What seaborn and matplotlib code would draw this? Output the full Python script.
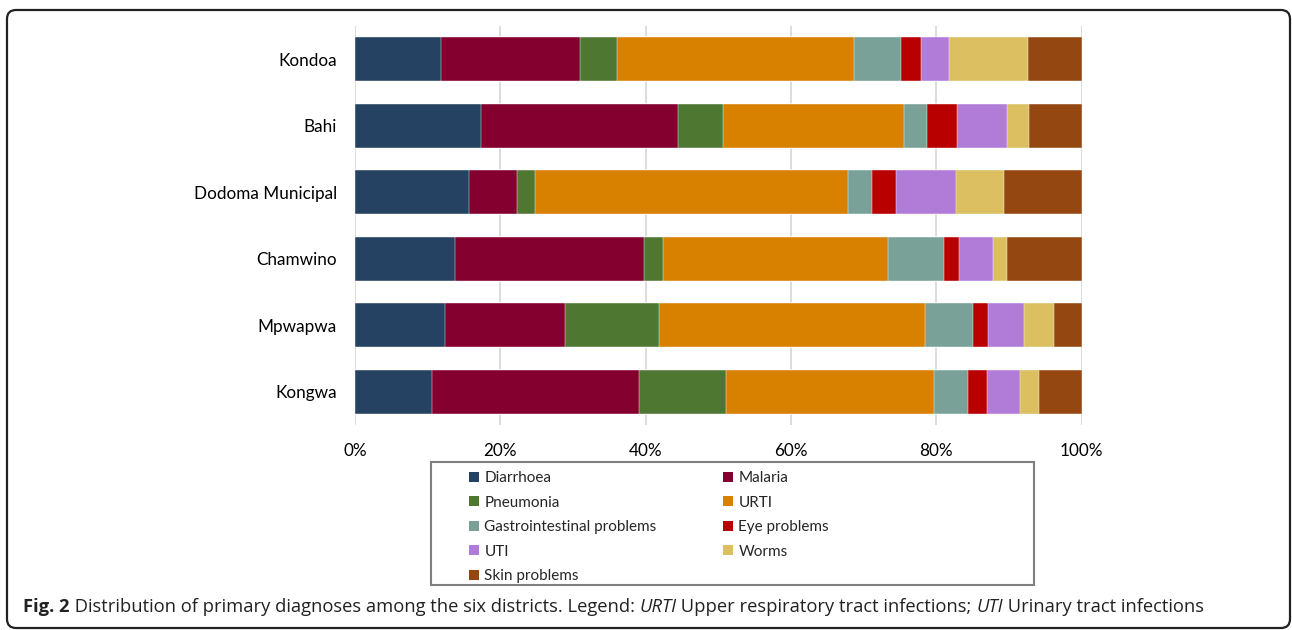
import matplotlib
matplotlib.use("Agg")
import matplotlib.pyplot as plt
from matplotlib.patches import Patch, Rectangle, FancyBboxPatch
from matplotlib.transforms import IdentityTransform
import numpy as np
import pandas as pd
import seaborn as sns

# Districts (top to bottom) and diagnoses (stack order, left to right)
districts = ["Kondoa", "Bahi", "Dodoma Municipal", "Chamwino", "Mpwapwa", "Kongwa"]
diagnoses = ["Diarrhoea", "Malaria", "Pneumonia", "URTI", "Gastrointestinal problems",
             "Eye problems", "UTI", "Worms", "Skin problems"]

# Share of primary diagnoses per district (%)
diarrhoea = [11.9, 17.3, 15.7, 13.7, 12.4, 10.6]
malaria = [19.1, 27.1, 6.6, 26.1, 16.5, 28.5]
pneumonia = [5.1, 6.2, 2.5, 2.6, 13.0, 12.0]
urti = [32.6, 24.9, 43.0, 31.0, 36.6, 28.6]
gastro = [6.5, 3.3, 3.4, 7.7, 6.6, 4.7]
eye = [2.7, 4.1, 3.2, 2.0, 2.0, 2.6]
uti = [3.9, 6.8, 8.3, 4.7, 5.0, 4.6]
worms = [10.8, 3.1, 6.6, 2.0, 4.1, 2.5]
skin = [7.4, 7.2, 10.7, 10.2, 3.8, 5.9]

colors = ["#264262", "#83002F", "#4E7732", "#D88000", "#7AA197",
          "#B90000", "#B07CD8", "#DBBF60", "#954712"]

tick_values = [0, 20, 40, 60, 80, 100]
tick_labels = ["0%", "20%", "40%", "60%", "80%", "100%"]

caption_parts = [
    ("Fig. 2", "bold", "normal"),
    (" Distribution of primary diagnoses among the six districts. Legend: ", "normal", "normal"),
    ("URTI", "normal", "italic"),
    (" Upper respiratory tract infections; ", "normal", "normal"),
    ("UTI", "normal", "italic"),
    (" Urinary tract infections", "normal", "normal"),
]

# Build a wide table and convert to 100% cumulative stacks
table = pd.DataFrame(
    np.array([diarrhoea, malaria, pneumonia, urti, gastro, eye, uti, worms, skin]).T,
    columns=diagnoses,
)
table.insert(0, "District", districts)
shares = table[diagnoses].div(table[diagnoses].sum(axis=1), axis=0) * 100
cumulative = shares.cumsum(axis=1)
cumulative.insert(0, "District", districts)

sns.set_theme(style="white")
plt.rcParams["font.family"] = ["Lato", "DejaVu Sans"]

W, H = 1292, 630
fig = plt.figure(figsize=(W / 100, H / 100), dpi=100)
ax = fig.add_axes([355 / W, 1 - 425 / H, 726.5 / W, 399 / H])

# Stacked bars: draw cumulative totals from the last segment back to the first
for name, col in reversed(list(zip(diagnoses, colors))):
    sns.barplot(data=cumulative, x=name, y="District", order=districts,
                color=col, orient="h", width=0.665, ax=ax,
                edgecolor="white", linewidth=0.3, saturation=1)

ax.set_xlim(0, 100)
ax.set_xticks(tick_values)
ax.set_xticklabels(tick_labels)
ax.set_xlabel("")
ax.set_ylabel("")
ax.set_axisbelow(True)
ax.grid(axis="x", color="#d9d9d9", linewidth=1.3)
ax.grid(axis="y", visible=False)
for s in ax.spines.values():
    s.set_visible(False)
ax.tick_params(axis="x", length=0, pad=13, labelsize=12.3, colors="#000000")
ax.tick_params(axis="y", length=0, pad=13, labelsize=12.3, colors="#000000")

# Legend frame
fig.patches.append(Rectangle((431, H - 585), 603, 123, transform=IdentityTransform(),
                             fill=False, edgecolor="#7f7f7f", linewidth=1.5, figure=fig))

handles = [Patch(facecolor=c, edgecolor="none") for c in colors]
left_idx = [0, 2, 4, 6, 8]
right_idx = [1, 3, 5, 7]
leg_kw = dict(loc="upper left", frameon=False, fontsize=11, handlelength=0.65,
              handleheight=0.65, handletextpad=0.35, labelspacing=0.69,
              borderpad=0, borderaxespad=0)
fig.legend([handles[i] for i in left_idx], [diagnoses[i] for i in left_idx],
           bbox_to_anchor=(469 / W, 1 - 471 / H), **leg_kw)
fig.legend([handles[i] for i in right_idx], [diagnoses[i] for i in right_idx],
           bbox_to_anchor=(723 / W, 1 - 471 / H), **leg_kw)

# Outer rounded frame
fig.patches.append(FancyBboxPatch((7, 2), 1283, H - 12, boxstyle="round,pad=0,rounding_size=9",
                                  transform=IdentityTransform(), fill=False,
                                  edgecolor="#222222", linewidth=1.6, figure=fig))

# Caption with mixed weights and styles
renderer = fig.canvas.get_renderer()
x = 23
for text, weight, style in caption_parts:
    t = fig.text(x / W, 1 - 612 / H, text, fontsize=13.2, fontweight=weight,
                 fontstyle=style, family=["Open Sans", "DejaVu Sans"],
                 ha="left", va="baseline", color="#222222")
    x = t.get_window_extent(renderer).x1

fig.savefig("out.png", dpi=100)
